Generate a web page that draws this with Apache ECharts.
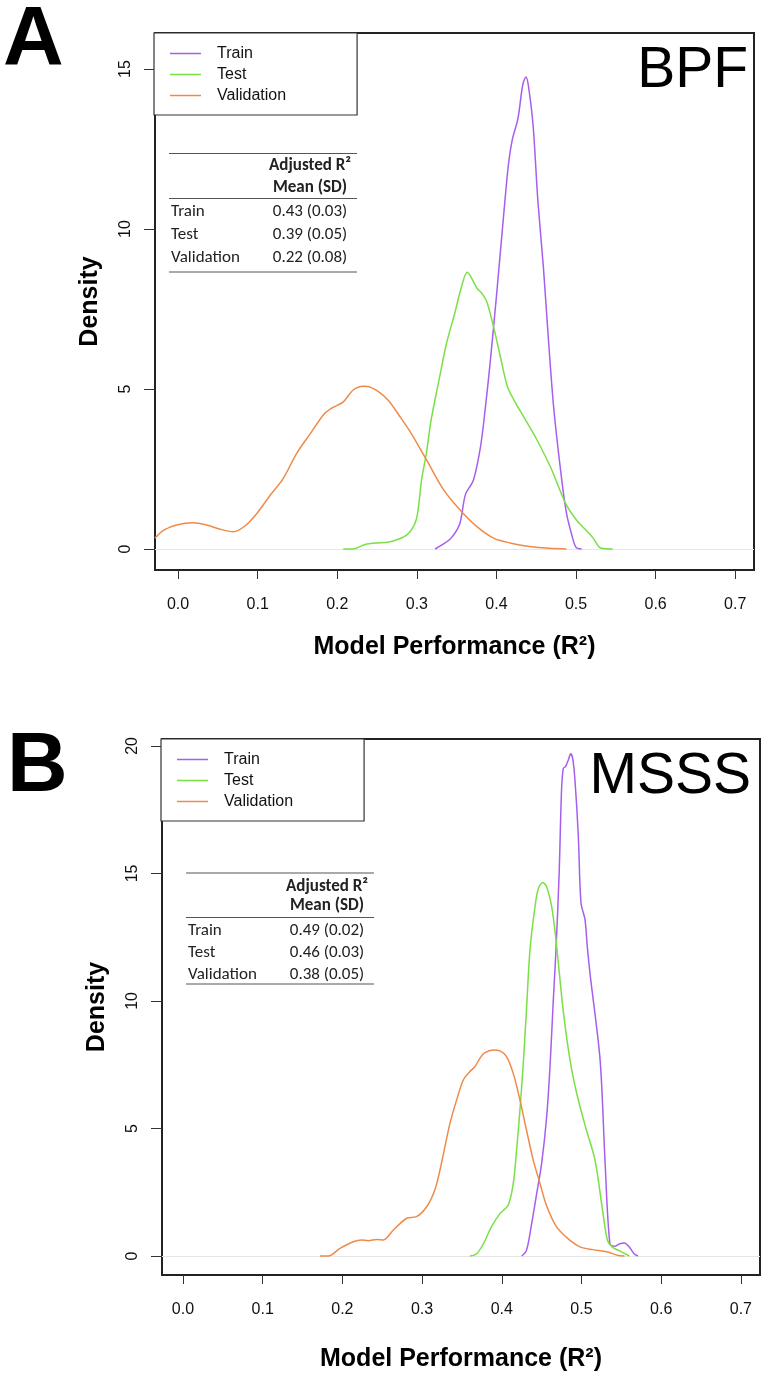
<!DOCTYPE html>
<html>
<head>
<meta charset="utf-8">
<script src="https://cdn.jsdelivr.net/npm/echarts@6/dist/echarts.min.js"></script>
<style>
html, body { margin: 0; padding: 0; background: #fff; }
#chart { width: 765px; height: 1377px; }
</style>
</head>
<body>
<div id="chart"></div>
<script>
// ---- data ----
var seriesNames = ['Train', 'Test', 'Validation'];
var xTicks = [0, 0.1, 0.2, 0.3, 0.4, 0.5, 0.6, 0.7];
var aYTicks = [0, 5, 10, 15];
var bYTicks = [0, 5, 10, 15, 20];

// panel A (BPF)
var aTrainX = [0.323, 0.331, 0.343, 0.354, 0.361, 0.371, 0.380, 0.386, 0.392, 0.400, 0.410, 0.415, 0.420, 0.427, 0.433, 0.437, 0.440, 0.446, 0.452, 0.459, 0.465, 0.472, 0.482, 0.488, 0.494, 0.500, 0.507];
var aTrainY = [0, 0.12, 0.34, 0.8, 1.7, 2.15, 3.2, 4.4, 5.8, 7.9, 10.7, 12.0, 12.8, 13.45, 14.5, 14.75, 14.5, 13.25, 10.9, 8.8, 6.66, 4.4, 2.17, 1.12, 0.5, 0.05, 0];
var aTestX = [0.2075, 0.219, 0.235, 0.25, 0.263, 0.275, 0.288, 0.297, 0.301, 0.306, 0.312, 0.318, 0.328, 0.337, 0.348, 0.354, 0.3634, 0.3755, 0.382, 0.388, 0.397, 0.405, 0.414, 0.4225, 0.435, 0.452, 0.469, 0.4866, 0.5, 0.512, 0.5216, 0.531, 0.546];
var aTestY = [0, 0, 0.14, 0.19, 0.21, 0.29, 0.45, 0.76, 1.12, 2.17, 3.0, 4.04, 5.3, 6.4, 7.4, 8.0, 8.65, 8.15, 7.98, 7.72, 6.88, 6.0, 5.06, 4.63, 4.1, 3.36, 2.5, 1.44, 0.92, 0.6, 0.34, 0.03, 0];
var aValX = [-0.029, -0.018, -0.002, 0.019, 0.036, 0.053, 0.0695, 0.084, 0.099, 0.116, 0.132, 0.149, 0.166, 0.1825, 0.193, 0.2077, 0.22, 0.2328, 0.2387, 0.25, 0.264, 0.279, 0.294, 0.3136, 0.333, 0.354, 0.3755, 0.397, 0.417, 0.4415, 0.466, 0.488];
var aValY = [0.34, 0.59, 0.75, 0.82, 0.75, 0.62, 0.54, 0.72, 1.11, 1.69, 2.2, 2.99, 3.6, 4.19, 4.4, 4.6, 4.97, 5.09, 5.08, 4.95, 4.65, 4.13, 3.57, 2.72, 1.87, 1.23, 0.7, 0.33, 0.19, 0.08, 0.02, 0];
var aTableVals = ['0.43 (0.03)', '0.39 (0.05)', '0.22 (0.08)'];

// panel B (MSSS)
var bTrainX = [0.425, 0.431, 0.4375, 0.4438, 0.45, 0.4563, 0.4605, 0.4646, 0.468, 0.472, 0.475, 0.4772, 0.48, 0.4835, 0.4865, 0.489, 0.4918, 0.496, 0.4994, 0.5044, 0.5073, 0.511, 0.5234, 0.5295, 0.5357, 0.542, 0.548, 0.554, 0.56, 0.566, 0.571];
var bTrainY = [0, 0.22, 1.27, 2.45, 3.62, 5.45, 7.41, 10.0, 12.0, 15.0, 18.27, 19.12, 19.19, 19.45, 19.69, 19.5, 18.67, 16.5, 13.84, 13.2, 12.13, 11.0, 7.68, 3.76, 0.48, 0.38, 0.48, 0.51, 0.35, 0.09, 0];
var bTestX = [0.36, 0.3685, 0.377, 0.387, 0.3977, 0.408, 0.4144, 0.4186, 0.4228, 0.427, 0.431, 0.4354, 0.4417, 0.4458, 0.4513, 0.456, 0.4626, 0.468, 0.477, 0.4856, 0.494, 0.505, 0.517, 0.5265, 0.5326, 0.5387, 0.548, 0.56];
var bTestY = [0, 0.09, 0.48, 1.14, 1.66, 1.99, 2.84, 4.15, 5.72, 7.55, 9.65, 12.0, 13.7, 14.4, 14.64, 14.5, 13.7, 12.4, 9.65, 7.69, 6.38, 5.07, 3.76, 1.79, 0.62, 0.35, 0.2, 0];
var bValX = [0.172, 0.1823, 0.197, 0.2137, 0.224, 0.2326, 0.243, 0.2513, 0.264, 0.2807, 0.293, 0.3058, 0.316, 0.3225, 0.3287, 0.335, 0.3434, 0.3517, 0.36, 0.3664, 0.3726, 0.3789, 0.3893, 0.3977, 0.406, 0.4144, 0.4228, 0.431, 0.4395, 0.448, 0.456, 0.4688, 0.4856, 0.4988, 0.514, 0.5326, 0.545, 0.554];
var bValY = [0, 0, 0.3, 0.56, 0.63, 0.6, 0.65, 0.63, 1.02, 1.48, 1.54, 1.93, 2.59, 3.37, 4.29, 5.2, 6.12, 6.9, 7.23, 7.43, 7.75, 7.97, 8.08, 8.04, 7.82, 7.16, 6.12, 4.94, 3.76, 2.84, 1.99, 1.14, 0.61, 0.35, 0.25, 0.16, 0.03, 0];
var bTableVals = ['0.49 (0.02)', '0.46 (0.03)', '0.38 (0.05)'];

var colors = ['#A75EEC', '#7BDF46', '#EE8B4A'];
var helv = '"Liberation Sans", Arial, sans-serif';
var calib = 'Carlito, Lato, sans-serif';

let zip = (xs, ys) => xs.map((x, i) => [x, ys[i]]);

let makeSeries = (idx, xsList, ysList) => {
	let arr = [];
	seriesNames.forEach(function(name, i){
		let s = {
			name: name,
			type: 'line',
			xAxisIndex: idx,
			yAxisIndex: idx,
			data: zip(xsList[i], ysList[i]),
			smooth: 0.3,
			showSymbol: false,
			clip: true,
			lineStyle: { width: 1.5, color: colors[i] },
			itemStyle: { color: colors[i] },
			z: 3
		};
		if (i === 0) {
			s.markLine = {
				silent: true,
				symbol: 'none',
				label: { show: false },
				lineStyle: { color: '#e6e6e6', width: 1, type: 'solid' },
				data: [{ yAxis: 0 }],
				z: 1
			};
		}
		arr.push(s);
	});
	return arr;
};

let makeXAxis = (idx, min, max, labelGap, titleGap) => ({
	type: 'value', gridIndex: idx, min: min, max: max,
	axisLine: { show: false, onZero: false },
	splitLine: { show: false },
	axisTick: { show: true, length: 9, customValues: xTicks, lineStyle: { color: '#333', width: 1 } },
	axisLabel: { customValues: xTicks, formatter: v => v.toFixed(1), fontSize: 16, color: '#111', margin: labelGap, fontFamily: helv },
	name: 'Model Performance (R²)', nameLocation: 'middle', nameGap: titleGap,
	nameTextStyle: { fontSize: 25, fontWeight: 'bold', color: '#000', fontFamily: helv }
});

let makeYAxis = (idx, min, max, ticks) => ({
	type: 'value', gridIndex: idx, min: min, max: max,
	axisLine: { show: false, onZero: false },
	splitLine: { show: false },
	axisTick: { show: true, length: 11, customValues: ticks, lineStyle: { color: '#333', width: 1 } },
	axisLabel: { customValues: ticks, rotate: 90, fontSize: 16, color: '#111', margin: 21, fontFamily: helv },
	name: 'Density', nameLocation: 'middle', nameGap: 52, nameRotate: 90,
	nameTextStyle: { fontSize: 25, fontWeight: 'bold', color: '#000', fontFamily: helv }
});

let makeLegend = (left, top) => ({
	data: seriesNames.map(n => ({ name: n, icon: 'rect' })),
	orient: 'vertical', left: left, top: top,
	itemWidth: 31, itemHeight: 1.5, itemGap: 0,
	padding: [10, 71, 9, 16],
	borderColor: '#333', borderWidth: 1.2, backgroundColor: '#fff',
	textStyle: { fontSize: 16, lineHeight: 21, color: '#111', fontFamily: helv, padding: [0, 0, 0, 11] },
	selectedMode: false
});

// table drawn as graphics; t = layout of one table
let makeTable = (vals, t) => {
	let g = [];
	[t.y0, t.y1, t.y2].forEach(function(y){
		g.push({ type: 'line', shape: { x1: t.x0, y1: y, x2: t.x1, y2: y }, style: { stroke: '#555', lineWidth: 1 } });
	});
	let txt = (x, y, s, align, bold) => ({
		type: 'text', x: x, y: y,
		style: { text: s, fill: '#222', font: (bold ? 'bold ' : '') + '17px ' + calib, textAlign: align, textVerticalAlign: 'middle' }
	});
	g.push(txt(t.cx, t.h1, 'Adjusted R²', 'center', true));
	g.push(txt(t.cx, t.h2, 'Mean (SD)', 'center', true));
	seriesNames.forEach(function(n, i){
		g.push(txt(t.x0 + 2, t.rows[i], n, 'left', false));
		g.push(txt(t.cx, t.rows[i], vals[i], 'center', false));
	});
	return g;
};

var chart = echarts.init(document.getElementById('chart'), null, { renderer: 'canvas' });

var graphics = [
	{ type: 'text', x: 3, y: 42, style: { text: 'A', font: 'bold 84px ' + helv, fill: '#000', textVerticalAlign: 'middle' } },
	{ type: 'text', x: 7, y: 768, style: { text: 'B', font: 'bold 84px ' + helv, fill: '#000', textVerticalAlign: 'middle' } },
	{ type: 'text', x: 748, y: 71, style: { text: 'BPF', font: '57px ' + helv, fill: '#000', textAlign: 'right', textVerticalAlign: 'middle' } },
	{ type: 'text', x: 751, y: 777, style: { text: 'MSSS', font: '57px ' + helv, fill: '#000', textAlign: 'right', textVerticalAlign: 'middle' } }
].concat(
	makeTable(aTableVals, { x0: 169, x1: 357, cx: 310, y0: 153.5, y1: 198.5, y2: 272, h1: 166, h2: 187.5, rows: [212, 234.5, 257.5] }),
	makeTable(bTableVals, { x0: 186, x1: 374, cx: 327, y0: 873, y1: 917.5, y2: 984, h1: 886.5, h2: 906, rows: [931, 953, 974.5] })
);

var option = {
	animation: false,
	backgroundColor: '#fff',
	grid: [
		{ left: 155, top: 33, width: 599, height: 537, show: true, borderColor: '#222', borderWidth: 2, backgroundColor: 'transparent' },
		{ left: 162, top: 739, width: 598, height: 536, show: true, borderColor: '#222', borderWidth: 2, backgroundColor: 'transparent' }
	],
	xAxis: [makeXAxis(0, -0.029, 0.7236, 27, 65), makeXAxis(1, -0.0263, 0.724, 27, 72)],
	yAxis: [makeYAxis(0, -0.656, 16.125, aYTicks), makeYAxis(1, -0.745, 20.27, bYTicks)],
	legend: [makeLegend(154, 33), makeLegend(161, 739)],
	series: makeSeries(0, [aTrainX, aTestX, aValX], [aTrainY, aTestY, aValY])
		.concat(makeSeries(1, [bTrainX, bTestX, bValX], [bTrainY, bTestY, bValY])),
	graphic: graphics
};
chart.setOption(option);
</script>
</body>
</html>
